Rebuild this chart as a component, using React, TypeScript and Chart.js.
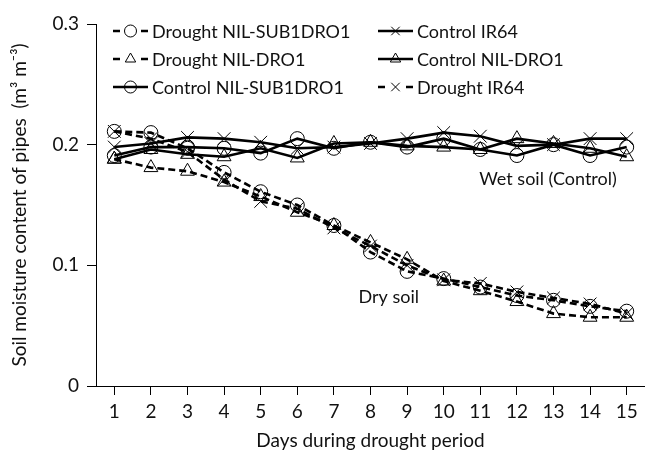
import React, { useEffect, useRef } from 'react';
import { Chart, registerables } from 'chart.js';

Chart.register(...registerables);

const dayLabels = ['1', '2', '3', '4', '5', '6', '7', '8', '9', '10', '11', '12', '13', '14', '15'];

const droughtSub1Dro1 = [0.211, 0.210, 0.197, 0.177, 0.161, 0.150, 0.133, 0.111, 0.095, 0.089, 0.082, 0.075, 0.071, 0.066, 0.062];
const droughtDro1 = [0.188, 0.181, 0.178, 0.169, 0.157, 0.144, 0.133, 0.119, 0.105, 0.087, 0.079, 0.070, 0.060, 0.057, 0.057];
const controlSub1Dro1 = [0.191, 0.198, 0.198, 0.197, 0.193, 0.205, 0.197, 0.202, 0.198, 0.205, 0.196, 0.191, 0.200, 0.191, 0.198];
const controlIR64 = [0.198, 0.201, 0.206, 0.205, 0.202, 0.197, 0.198, 0.201, 0.205, 0.210, 0.207, 0.199, 0.200, 0.205, 0.205];
const controlDro1 = [0.188, 0.196, 0.192, 0.190, 0.197, 0.189, 0.201, 0.202, 0.199, 0.198, 0.196, 0.205, 0.201, 0.197, 0.190];
const droughtIR64 = [0.211, 0.205, 0.194, 0.171, 0.153, 0.147, 0.131, 0.116, 0.100, 0.088, 0.085, 0.078, 0.073, 0.068, 0.060];

const seriesNames = [
  'Drought NIL-SUB1DRO1',
  'Drought NIL-DRO1',
  'Control NIL-SUB1DRO1',
  'Control IR64',
  'Control NIL-DRO1',
  'Drought IR64',
];

const yTickValues = [0, 0.1, 0.2, 0.3];
const yTitle = 'Soil moisture content of pipes  (m\u00B3 m\u207B\u00B3)';
const xTitle = 'Days during drought period';
const wetLabel = 'Wet soil (Control)';
const dryLabel = 'Dry soil';

const FONT_FAMILY = 'Lato, "Open Sans", sans-serif';
const TEXT_COLOR = '#111111';
const DASH = [7, 4];

function drawMarker(ctx: CanvasRenderingContext2D, style: string, x: number, y: number, r: number) {
  ctx.beginPath();
  if (style === 'circle') {
    ctx.arc(x, y, r, 0, Math.PI * 2);
  } else if (style === 'triangle') {
    const h = r * 1.5;
    const half = (r * Math.sqrt(3)) / 2;
    ctx.moveTo(x, y - r);
    ctx.lineTo(x + half, y - r + h);
    ctx.lineTo(x - half, y - r + h);
    ctx.closePath();
  } else {
    const d = r * Math.SQRT1_2;
    ctx.moveTo(x - d, y - d);
    ctx.lineTo(x + d, y + d);
    ctx.moveTo(x + d, y - d);
    ctx.lineTo(x - d, y + d);
  }
  ctx.stroke();
}

const overlayPlugin = {
  id: 'overlay',
  afterDraw(chart: any) {
    const ctx = chart.ctx as CanvasRenderingContext2D;
    const xs = chart.scales.x;
    const ys = chart.scales.y;
    ctx.save();
    // annotations
    ctx.fillStyle = TEXT_COLOR;
    ctx.font = `18px ${FONT_FAMILY}`;
    ctx.textAlign = 'center';
    ctx.textBaseline = 'middle';
    const xAt = (v: number) => xs.left + ((v - 0.5) / dayLabels.length) * (xs.right - xs.left);
    ctx.fillText(wetLabel, xAt(12.85), ys.getPixelForValue(0.171));
    ctx.fillText(dryLabel, xAt(8.5), ys.getPixelForValue(0.074));

    // legend
    const colX = [113, 378];
    const rowY = [31, 59, 87];
    ctx.textAlign = 'left';
    chart.data.datasets.forEach((ds: any, i: number) => {
      const col = i < 3 ? 0 : 1;
      const row = i % 3;
      const x0 = colX[col];
      const y = rowY[row];
      ctx.strokeStyle = '#000';
      ctx.lineWidth = 2.5;
      ctx.setLineDash([]);
      ctx.beginPath();
      if (ds.borderDash && ds.borderDash.length) {
        ctx.moveTo(x0, y);
        ctx.lineTo(x0 + 7, y);
        ctx.moveTo(x0 + 28, y);
        ctx.lineTo(x0 + 35, y);
      } else {
        ctx.moveTo(x0, y);
        ctx.lineTo(x0 + 35, y);
      }
      ctx.stroke();
      ctx.lineWidth = 1;
      drawMarker(ctx, ds.pointStyle, x0 + 17.5, y, 6);
      ctx.fillStyle = TEXT_COLOR;
      ctx.fillText(ds.label, x0 + 39, y + 1);
    });
    ctx.restore();
  },
};

export default function App() {
  const canvasRef = useRef<HTMLCanvasElement | null>(null);

  useEffect(() => {
    document.body.style.margin = '0';
    const canvas = canvasRef.current;
    if (!canvas) return;

    const seriesValues = [droughtSub1Dro1, droughtDro1, controlSub1Dro1, controlIR64, controlDro1, droughtIR64];
    const styles = ['circle', 'triangle', 'circle', 'crossRot', 'triangle', 'crossRot'];
    const dashed = [true, true, false, false, false, true];
    const radii: Record<string, number> = { circle: 7, triangle: 8, crossRot: 9 };

    const datasets = seriesValues.map((vals, i) => ({
      label: seriesNames[i],
      data: vals,
      borderColor: '#000',
      borderWidth: 2.6,
      borderDash: dashed[i] ? DASH : [],
      pointStyle: styles[i],
      pointRadius: radii[styles[i]],
      pointBorderWidth: 1,
      pointBorderColor: '#000',
      pointBackgroundColor: 'rgba(0,0,0,0)',
      fill: false,
      tension: 0,
    }));

    const chart = new Chart(canvas, {
      type: 'line',
      data: { labels: dayLabels, datasets },
      plugins: [overlayPlugin],
      options: {
        animation: false,
        responsive: false,
        devicePixelRatio: 1,
        layout: { autoPadding: false, padding: { top: 24, left: 0, right: 0, bottom: 0 } },
        plugins: {
          legend: { display: false },
          tooltip: { enabled: false },
        },
        scales: {
          x: {
            type: 'category',
            offset: true,
            afterFit: (s: any) => {
              s.height = 69;
              s.paddingLeft = 0;
              s.paddingRight = 0;
            },
            grid: {
              offset: false,
              drawOnChartArea: false,
              drawTicks: true,
              tickLength: 9,
              color: '#000',
            },
            border: { display: true, color: '#000', width: 1 },
            ticks: {
              color: TEXT_COLOR,
              font: { family: FONT_FAMILY, size: 19 },
              padding: 5,
              maxRotation: 0,
              autoSkip: false,
            },
            title: {
              display: true,
              text: xTitle,
              color: TEXT_COLOR,
              font: { family: FONT_FAMILY, size: 19 },
              padding: { top: 0, bottom: 3 },
            },
          },
          y: {
            type: 'linear',
            min: 0,
            max: 0.3,
            afterFit: (s: any) => {
              s.width = 96;
              s.paddingTop = 0;
              s.paddingBottom = 0;
            },
            afterBuildTicks: (s: any) => {
              s.ticks = yTickValues.map((v) => ({ value: v }));
            },
            grid: {
              drawOnChartArea: false,
              drawTicks: true,
              tickLength: 9,
              color: '#000',
            },
            border: { display: true, color: '#000', width: 1 },
            ticks: {
              color: TEXT_COLOR,
              font: { family: FONT_FAMILY, size: 19 },
              padding: 8,
              callback: (v: any) => String(Math.round(Number(v) * 10) / 10),
            },
            title: {
              display: true,
              text: yTitle,
              color: TEXT_COLOR,
              font: { family: FONT_FAMILY, size: 19 },
              padding: { top: 8, bottom: 0 },
            },
          },
        },
      },
    });

    return () => {
      chart.destroy();
    };
  }, []);

  return (
    <div style={{ position: 'absolute', left: 0, top: 0, width: 645, height: 455 }}>
      <canvas ref={canvasRef} width={645} height={455} style={{ width: 645, height: 455 }} />
    </div>
  );
}
